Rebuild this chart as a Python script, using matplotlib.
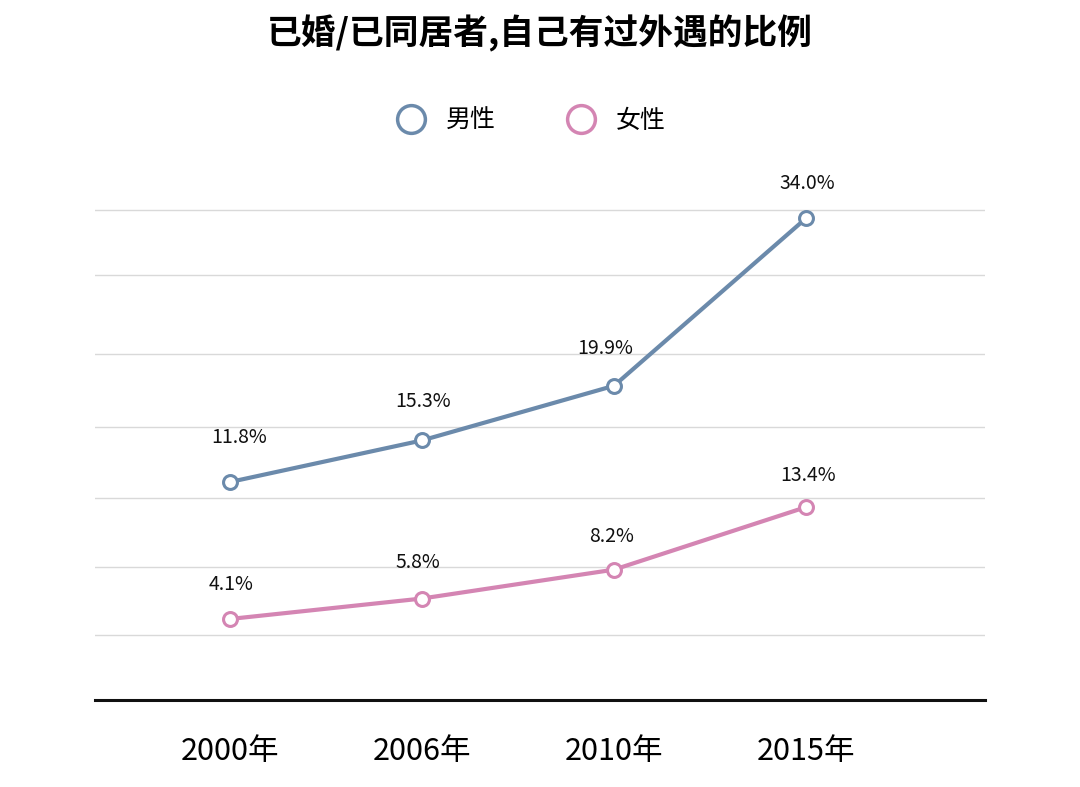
import matplotlib.pyplot as plt
from matplotlib.lines import Line2D

plt.rcParams['font.family'] = ['Noto Sans CJK SC', 'DejaVu Sans']

years = ['2000年', '2006年', '2010年', '2015年']
men = [11.8, 15.3, 19.9, 34.0]
women = [4.1, 5.8, 8.2, 13.4]
grid_vals = [34.7, 29.2, 22.6, 16.4, 10.5, 4.65, -1.07]

# label offsets (points) above each marker
men_off = [(7, 32), (1, 28), (-6, 27), (1, 25)]
women_off = [(1, 25), (-3, 26), (-2, 24), (1, 23)]

c_men = '#6b8aab'
c_women = '#d485b3'

fig = plt.figure(figsize=(10.8, 7.87), dpi=100)
ax = fig.add_axes([0.088, 0.1105, 0.824, 0.648])
ax2 = ax.twinx()

x = range(len(years))
for g in grid_vals:
    ax.axhline(g, color='#d9d9d9', lw=1, zorder=0)

ax.plot(x, men, color=c_men, lw=3, marker='o', ms=10, mfc='white', mec=c_men, mew=2.2, zorder=3)
ax2.plot(x, women, color=c_women, lw=3, marker='o', ms=10, mfc='white', mec=c_women, mew=2.2, zorder=3)

for i, v in enumerate(men):
    ax.annotate(f'{v:.1f}%', (i, v), xytext=men_off[i], textcoords='offset points',
                ha='center', va='center', fontsize=14, color='#111111')
for i, v in enumerate(women):
    ax2.annotate(f'{v:.1f}%', (i, v), xytext=women_off[i], textcoords='offset points',
                 ha='center', va='center', fontsize=14, color='#111111')

ax.set_xlim(-0.70, 3.93)
ax.set_ylim(-6.53, 36.36)
ax2.set_ylim(-2.63, 39.73)

ax.set_xticks(list(x))
ax.set_xticklabels(years, fontsize=22, fontweight='medium')
ax.tick_params(axis='x', length=0, pad=26)
ax.set_yticks([])
ax2.set_yticks([])
for a in (ax, ax2):
    for s in ['top', 'left', 'right']:
        a.spines[s].set_visible(False)
ax.spines['bottom'].set_color('#111111')
ax.spines['bottom'].set_linewidth(2.2)
ax2.spines['bottom'].set_visible(False)

fig.text(0.5, 0.957, '已婚/已同居者,自己有过外遇的比例', ha='center', va='center',
         fontsize=25, fontweight='bold')

handles = [Line2D([], [], ls='none', marker='o', ms=20, mfc='white', mec=c_men, mew=2.5),
           Line2D([], [], ls='none', marker='o', ms=20, mfc='white', mec=c_women, mew=2.5)]
fig.legend(handles, ['男性', '女性'], loc='center', bbox_to_anchor=(0.487, 0.846), ncol=2,
           frameon=False, fontsize=18, handletextpad=0.4, columnspacing=2.4)

fig.savefig('out.png', dpi=100, facecolor='white')
